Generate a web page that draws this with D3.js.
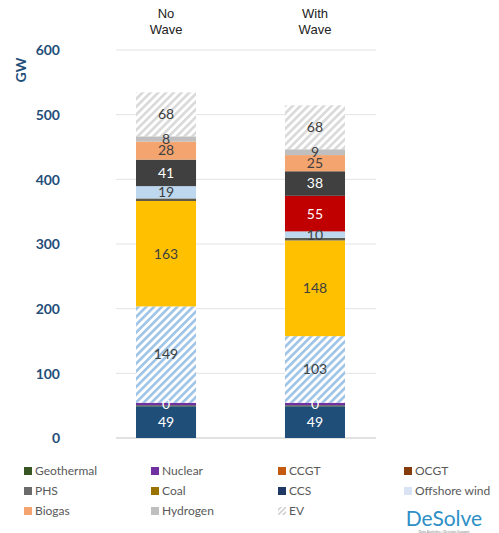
<!DOCTYPE html>
<html><head><meta charset="utf-8">
<script src="https://cdn.jsdelivr.net/npm/d3@7"></script>
<style>body{margin:0;background:#fff}svg{display:block}</style>
</head><body>
<svg id="c" width="499" height="533"></svg>
<script>
const categories = ["No\nWave", "With\nWave"];
const seriesNames = ["CCS","Geothermal","Nuclear","Onshore wind","Solar","PHS","Offshore wind","Wave","Battery","Biogas","Hydrogen","EV"];
const ccs        = [49, 49];
const geothermal = [1.5, 1.5];
const nuclear    = [4, 4];
const onshore    = [149, 103];
const solar      = [163, 148];
const phs        = [4, 4];
const offshore   = [19, 10];
const wave       = [0, 55];
const battery    = [41, 38];
const biogas     = [28, 25];
const hydrogen   = [8, 9];
const ev         = [68, 68];
const shownLabels = {CCS:["49","49"], Nuclear:["0","0"], "Onshore wind":["149","103"], Solar:["163","148"],
  "Offshore wind":["19","10"], Wave:[null,"55"], Battery:["41","38"], Biogas:["28","25"], Hydrogen:["8","9"], EV:["68","68"]};
const yTicks = [0,100,200,300,400,500,600];
const legendItems = ["Geothermal","Nuclear","CCGT","OCGT","PHS","Coal","CCS","Offshore wind","Biogas","Hydrogen","EV"];

const values = [ccs, geothermal, nuclear, onshore, solar, phs, offshore, wave, battery, biogas, hydrogen, ev];
const colors = {CCS:"#1f4e79", Geothermal:"#375623", Nuclear:"#7030a0", "Onshore wind":"url(#hatchBlue)", Solar:"#ffc000",
  PHS:"#5e5a4c", "Offshore wind":"#bdd7ee", Wave:"#c00000", Battery:"#404040", Biogas:"#f4a46e", Hydrogen:"#bfbfbf", EV:"url(#hatchGray)"};
const labelColors = {CCS:"#fff", Nuclear:"#fff", Wave:"#fff", Battery:"#fff"};
const legendColors = {Geothermal:"#375623", Nuclear:"#7030a0", CCGT:"#c55a11", OCGT:"#843c0c", PHS:"#6b6b6b", Coal:"#997300",
  CCS:"#1f3864", "Offshore wind":"#dae3f3", Biogas:"#f4a46e", Hydrogen:"#bfbfbf", EV:"url(#hatchGrayS)"};

const svg = d3.select("#c");
const defs = svg.append("defs");
function hatch(id, col, size, w){
  const p = defs.append("pattern").attr("id", id).attr("patternUnits","userSpaceOnUse")
    .attr("width", size).attr("height", size).attr("patternTransform","rotate(45)");
  p.append("rect").attr("width", size).attr("height", size).attr("fill","#fff");
  p.append("rect").attr("width", w).attr("height", size).attr("fill", col);
}
hatch("hatchBlue", "#9dc3e6", 5.5, 2.6);
hatch("hatchGray", "#d9d9d9", 5.5, 2.6);
hatch("hatchGrayS", "#c8c8c8", 3.5, 1.4);

const y = d3.scaleLinear().domain([0,600]).range([438,50]);
const x = d3.scaleBand().domain(categories).range([121.1,359.9]).paddingInner(0.597).paddingOuter(0.1);

// gridlines
svg.append("g").selectAll("line").data(yTicks).join("line")
  .attr("x1",116).attr("x2",376).attr("y1",d=>y(d)).attr("y2",d=>y(d))
  .attr("stroke",d=>d===0?"#d9d9d9":"#e3e3e3").attr("stroke-width",d=>d===0?1.5:1);

// y axis
const ax = svg.append("g").attr("transform","translate(62,0)")
  .call(d3.axisLeft(y).tickValues(yTicks).tickSize(0).tickPadding(2));
ax.select(".domain").remove();
ax.selectAll("text").attr("font-family","Lato, sans-serif").attr("font-size",14).attr("font-weight",700)
  .attr("fill","#1f4e79").attr("dy","0.35em");
svg.append("text").attr("transform","translate(26,70) rotate(-90)").attr("text-anchor","middle")
  .attr("font-family","Lato, sans-serif").attr("font-weight",700).attr("font-size",14).attr("fill","#1f4e79").text("GW");

// header
categories.forEach(c=>{
  c.split("\n").forEach((t,i)=>{
    svg.append("text").attr("x", x(c)+x.bandwidth()/2).attr("y", 18+i*16).attr("text-anchor","middle")
      .attr("font-family","Liberation Sans, Arial, sans-serif").attr("font-size",13).attr("fill","#222").text(t);
  });
});

// stacked bars
const rows = categories.map((c,i)=>{ const o={cat:c}; seriesNames.forEach((s,j)=>o[s]=values[j][i]); return o; });
const stacked = d3.stack().keys(seriesNames)(rows);
const gBars = svg.append("g");
stacked.forEach(layer=>{
  const key = layer.key;
  gBars.selectAll(null).data(layer).join("rect")
    .attr("x", d=>x(d.data.cat)).attr("width", x.bandwidth())
    .attr("y", d=>y(d[1])).attr("height", d=>Math.max(0, y(d[0])-y(d[1])))
    .attr("fill", colors[key]);
});
stacked.forEach(layer=>{
  const key = layer.key;
  const labs = shownLabels[key];
  if(!labs) return;
  layer.forEach((d,i)=>{
    if(labs[i]==null) return;
    svg.append("text").attr("x", x(d.data.cat)+x.bandwidth()/2).attr("y", y((d[0]+d[1])/2))
      .attr("dy","0.35em").attr("text-anchor","middle")
      .attr("font-family","Lato, sans-serif").attr("font-size",14)
      .attr("fill", labelColors[key]||"#404040").text(labs[i]);
  });
});

// legend
const colX = [24,151,278,404], rowY = [471,491,511];
legendItems.forEach((name,i)=>{
  const cx = colX[i%4], cy = rowY[Math.floor(i/4)];
  svg.append("rect").attr("x",cx).attr("y",cy-4).attr("width",8).attr("height",8).attr("fill",legendColors[name]);
  svg.append("text").attr("x",cx+11).attr("y",cy).attr("dy","0.35em")
    .attr("font-family","Lato, sans-serif").attr("font-size",12).attr("fill","#595959").text(name);
});

// logo
svg.append("text").attr("x",444).attr("y",526).attr("text-anchor","middle")
  .attr("font-family","Lato, sans-serif").attr("font-size",21).attr("fill","#2e8fc6").text("DeSolve");
svg.append("text").attr("x",444).attr("y",532.5).attr("text-anchor","middle")
  .attr("font-family","Lato, sans-serif").attr("font-size",3.5).attr("fill","#888").text("Data Analytics | Decision Support");
</script>
</body></html>
